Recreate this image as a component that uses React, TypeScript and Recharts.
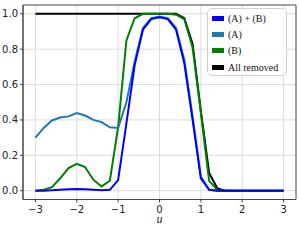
import React from "react";
import { LineChart, Line, XAxis, YAxis, CartesianGrid, ReferenceArea } from "recharts";

const uValues = [-3, -2.8, -2.6, -2.4, -2.2, -2, -1.8, -1.6, -1.4, -1.2, -1, -0.8, -0.6, -0.4, -0.2, 0, 0.2, 0.4, 0.6, 0.8, 1, 1.2, 1.4, 1.6, 1.8, 2, 2.2, 2.4, 2.6, 2.8, 3];

const seriesAB = [0, 0, 0.003, 0.005, 0.008, 0.01, 0.008, 0.005, 0.003, 0.005, 0.06, 0.38, 0.71, 0.91, 0.97, 0.98, 0.97, 0.91, 0.72, 0.4, 0.07, 0.005, 0, 0, 0, 0, 0, 0, 0, 0, 0];
const seriesA = [0.3, 0.355, 0.397, 0.414, 0.42, 0.439, 0.425, 0.4, 0.388, 0.358, 0.355, 0.5, 0.73, 0.92, 0.975, 0.985, 0.975, 0.92, 0.74, 0.42, 0.08, 0.005, 0, 0, 0, 0, 0, 0, 0, 0, 0];
const seriesB = [0, 0.005, 0.02, 0.07, 0.128, 0.152, 0.134, 0.062, 0.024, 0.056, 0.36, 0.85, 0.975, 1, 1, 1, 1, 0.995, 0.97, 0.81, 0.44, 0.055, 0.003, 0, 0, 0, 0, 0, 0, 0, 0];
const seriesAll = [1, 1, 1, 1, 1, 1, 1, 1, 1, 1, 1, 1, 1, 1, 1, 1, 1, 1, 0.975, 0.83, 0.45, 0.1, 0.012, 0, 0, 0, 0, 0, 0, 0, 0];

const xTicks = [-3, -2, -1, 0, 1, 2, 3];
const yTicks = [0, 0.2, 0.4, 0.6, 0.8, 1.0];

const legendItems = [
  { key: "ab", label: "(A) + (B)", color: "#0000ff" },
  { key: "a", label: "(A)", color: "#1f77b4" },
  { key: "b", label: "(B)", color: "#008000" },
  { key: "all", label: "All removed", color: "#000000" },
];

const data = uValues.map((u, i) => ({
  u,
  ab: seriesAB[i],
  a: seriesA[i],
  b: seriesB[i],
  all: seriesAll[i],
}));

const fmtX = (v: number) => (v < 0 ? "\u2212" + Math.abs(v) : String(v));
const fmtY = (v: number) => v.toFixed(1);

const spine = "#444";
const tickFont = { fontFamily: "'DejaVu Sans', sans-serif", fontSize: 10, fill: "#222" };

export default function App() {
  return (
    <div style={{ position: "absolute", left: 0, top: 0, width: 299, height: 251, background: "#fff" }}>
      <LineChart
        width={299}
        height={251}
        data={data}
        margin={{ top: 5, right: 3, left: 0, bottom: 39.5 }}
      >
        <CartesianGrid stroke="#dcdcdc" strokeWidth={1} horizontalValues={yTicks} verticalValues={xTicks} />
        <XAxis
          dataKey="u"
          type="number"
          domain={[-3.3, 3.3]}
          ticks={xTicks}
          tickFormatter={fmtX}
          allowDataOverflow
          height={12}
          tickSize={3}
          tickMargin={3}
          stroke={spine}
          tick={tickFont}
          label={{ value: "u", position: "bottom", offset: 3, style: { fontFamily: "'Liberation Serif', 'DejaVu Serif', serif", fontStyle: "italic", fontSize: 12, fill: "#222" } }}
        />
        <YAxis
          type="number"
          domain={[-0.05, 1.05]}
          ticks={yTicks}
          tickFormatter={fmtY}
          allowDataOverflow
          width={23}
          tickSize={3}
          tickMargin={2}
          stroke={spine}
          tick={tickFont}
        />
        <ReferenceArea x1={-3.3} x2={3.3} y1={-0.05} y2={1.05} fill="none" stroke={spine} strokeWidth={1} ifOverflow="visible" />
        <Line dataKey="all" stroke="#000000" strokeWidth={2} dot={false} isAnimationActive={false} />
        <Line dataKey="b" stroke="#008000" strokeWidth={2} dot={false} isAnimationActive={false} />
        <Line dataKey="a" stroke="#1f77b4" strokeWidth={2} dot={false} isAnimationActive={false} />
        <Line dataKey="ab" stroke="#0000ff" strokeWidth={2} dot={false} isAnimationActive={false} />
      </LineChart>
      <div
        style={{
          position: "absolute",
          left: 207,
          top: 8,
          width: 80,
          height: 68,
          border: "1px solid #d0d0d0",
          borderRadius: 5,
          background: "rgba(255,255,255,0.85)",
          boxSizing: "border-box",
          fontFamily: "'Liberation Serif', 'DejaVu Serif', serif",
          fontSize: 10,
          color: "#111",
        }}
      >
        {legendItems.map((it, i) => (
          <div
            key={it.key}
            style={{ position: "absolute", left: 4, top: 2 + i * 16.2, height: 15, display: "flex", alignItems: "center", whiteSpace: "nowrap" }}
          >
            <span style={{ display: "inline-block", width: 12, height: 5, background: it.color, marginRight: 4 }} />
            <span>{it.label}</span>
          </div>
        ))}
      </div>
    </div>
  );
}
